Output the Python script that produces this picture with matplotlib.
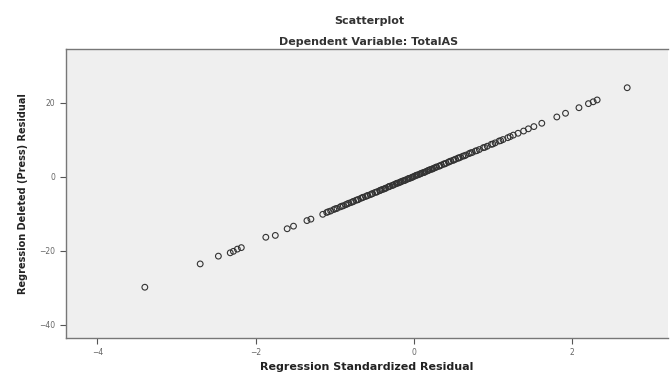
import matplotlib.pyplot as plt
import numpy as np

# Regression Standardized Residual (x) vs Regression Deleted (Press) Residual (y)
std_resid = [-3.40, -2.70, -2.47, -2.32, -2.28, -2.23, -2.18, -1.87, -1.75,
             -1.60, -1.52, -1.35, -1.30, -1.15, -1.10, -1.05, -1.01, -0.97,
             -0.93, -0.89, -0.86, -0.82, -0.79, -0.76, -0.73, -0.70, -0.67,
             -0.64, -0.61, -0.58, -0.55, -0.52, -0.49, -0.46, -0.43, -0.40,
             -0.38, -0.35, -0.32, -0.30, -0.27, -0.24, -0.22, -0.19, -0.17,
             -0.14, -0.12, -0.09, -0.07, -0.04, -0.02, 0.01, 0.03, 0.06,
             0.08, 0.11, 0.13, 0.16, 0.18, 0.21, 0.24, 0.26, 0.29, 0.32,
             0.35, 0.38, 0.41, 0.44, 0.47, 0.50, 0.53, 0.56, 0.59, 0.62,
             0.66, 0.70, 0.74, 0.78, 0.83, 0.88, 0.93, 0.98, 1.03, 1.08,
             1.13, 1.19, 1.26, 1.32, 1.39, 1.45, 1.52, 1.62, 1.81, 1.92,
             2.09, 2.21, 2.27, 2.32, 2.70,
             -1.08, -0.99, -0.91, -0.84, -0.77, -0.71, -0.65, -0.59, -0.53,
             -0.47, -0.42, -0.36, -0.31, -0.26, -0.21, -0.16, -0.11, -0.06,
             -0.01, 0.04, 0.09, 0.14, 0.19, 0.23, 0.28, 0.33, 0.39, 0.45,
             0.51, 0.57, 0.64, 0.72, 0.80, 0.90, 1.00, 1.10, 1.22]
press_resid = [-29.9, -23.6, -21.5, -20.6, -20.2, -19.6, -19.2, -16.4, -15.9,
               -14.1, -13.4, -11.9, -11.5, -10.2, -9.7, -9.3, -8.9, -8.6,
               -8.2, -7.9, -7.6, -7.2, -7.0, -6.7, -6.4, -6.2, -5.9,
               -5.6, -5.4, -5.1, -4.9, -4.6, -4.3, -4.1, -3.8, -3.5,
               -3.4, -3.1, -2.8, -2.6, -2.4, -2.1, -1.9, -1.7, -1.5,
               -1.2, -1.1, -0.8, -0.6, -0.4, -0.2, 0.1, 0.3, 0.5,
               0.7, 1.0, 1.1, 1.4, 1.6, 1.9, 2.1, 2.3, 2.6, 2.8,
               3.1, 3.4, 3.6, 3.9, 4.2, 4.4, 4.7, 5.0, 5.2, 5.5,
               5.8, 6.2, 6.5, 6.9, 7.3, 7.8, 8.2, 8.7, 9.1, 9.6,
               10.0, 10.5, 11.2, 11.7, 12.3, 12.9, 13.5, 14.4, 16.1, 17.1,
               18.6, 19.7, 20.2, 20.7, 24.0,
               -9.5, -8.7, -8.0, -7.4, -6.8, -6.3, -5.7, -5.2, -4.7,
               -4.2, -3.7, -3.2, -2.7, -2.3, -1.8, -1.4, -1.0, -0.5,
               -0.1, 0.4, 0.8, 1.2, 1.7, 2.0, 2.5, 2.9, 3.4, 4.0,
               4.5, 5.0, 5.6, 6.4, 7.0, 7.9, 8.8, 9.7, 10.8]

fig = plt.figure(figsize=(6.71, 3.73), dpi=100)
ax = fig.add_axes([0.098, 0.094, 0.898, 0.775])
ax.set_facecolor('#efefef')

ax.scatter(std_resid, press_resid, s=17, facecolors='none',
           edgecolors='#333333', linewidths=0.8, zorder=3)

ax.set_xlim(-4.40, 3.22)
ax.set_ylim(-43.6, 34.5)
ax.set_xticks([-4, -2, 0, 2])
ax.set_yticks([-40, -20, 0, 20])
ax.tick_params(direction='out', length=4, width=0.8, colors='#555555',
               labelsize=5.5, labelcolor='#666666')

for side in ['left', 'bottom', 'top']:
    ax.spines[side].set_color('#777777')
    ax.spines[side].set_linewidth(1.0)
ax.spines['right'].set_visible(False)

ax.set_xlabel('Regression Standardized Residual', fontsize=8,
              fontweight='bold', color='#222222', labelpad=3)
ax.set_ylabel('Regression Deleted (Press) Residual', fontsize=7,
              fontweight='bold', color='#222222', labelpad=8)

fig.text(0.55, 0.944, 'Scatterplot', ha='center', va='center',
         fontsize=8, fontweight='bold', color='#333333')
fig.text(0.55, 0.888, 'Dependent Variable: TotalAS', ha='center',
         va='center', fontsize=8, fontweight='bold', color='#333333')

fig.savefig('out.png', dpi=100)
